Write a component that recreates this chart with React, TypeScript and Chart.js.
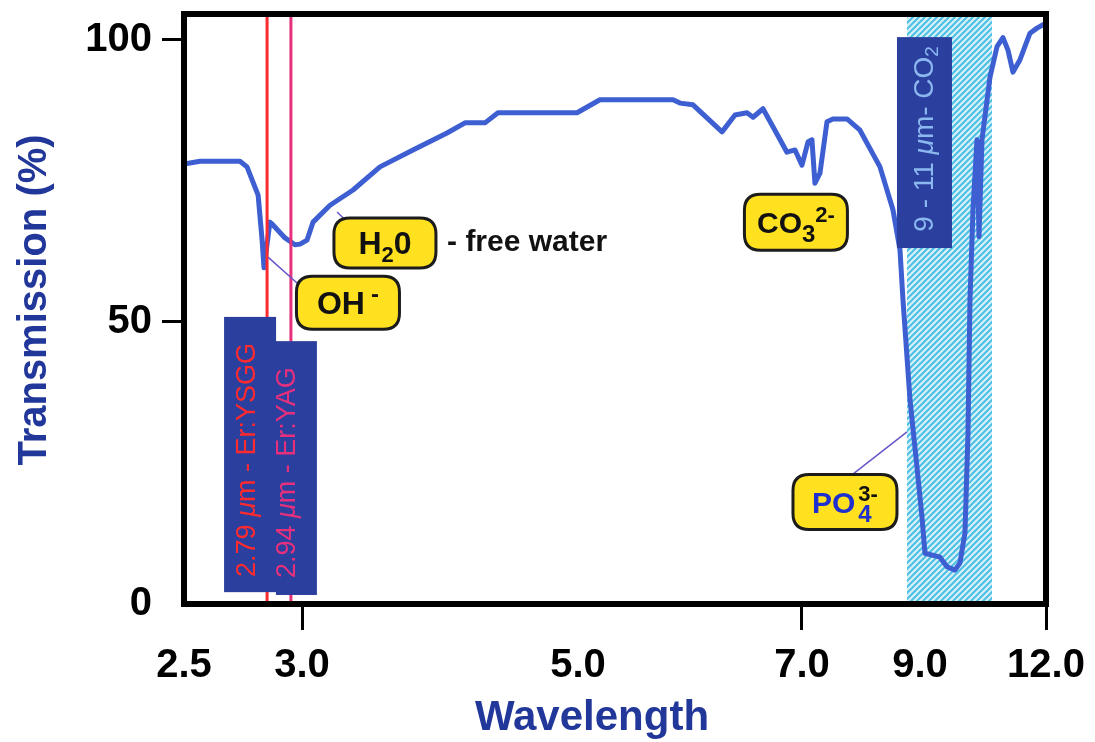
import React, { useEffect, useRef } from 'react';
import { Chart, LinearScale, LineController, LineElement, PointElement } from 'chart.js';

// ---------------- data ----------------
const wavelength = [
  2.5, 2.568, 2.737, 2.767, 2.814, 2.831, 2.839, 2.864, 2.877, 2.928, 2.97, 2.992,
  3.036, 3.08, 3.203, 3.37, 3.565, 3.804, 4.051, 4.181, 4.326, 4.42, 4.993,
  5.196, 5.848, 5.911, 6.027, 6.286, 6.402, 6.509, 6.563, 6.652, 6.741, 6.866, 6.938, 7.0,
  7.102, 7.169, 7.22, 7.305, 7.424, 7.525, 7.763, 7.983, 8.322, 8.542, 8.661, 8.712, 8.831, 8.949,
  9.048, 9.119, 9.476, 9.643, 9.833, 9.952, 10.071, 10.143, 10.19, 10.262, 10.357, 10.405, 10.476,
  10.667, 10.833, 10.976, 11.095, 11.214, 11.381, 11.619, 11.786, 11.929,
];
const transmission = [
  78.0, 78.5, 78.5, 77.5, 72.5, 64.5, 59.6, 67.7, 67.2, 64.9, 63.7, 63.8,
  64.5, 67.7, 70.7, 73.4, 77.5, 80.5, 83.5, 85.3, 85.3, 87.1, 87.1,
  89.4, 89.4, 88.8, 88.5, 83.7, 86.7, 87.1, 86.3, 87.8, 84.6, 80.1, 80.5, 77.8,
  81.9, 82.3, 74.6, 76.4, 85.5, 86.0, 86.0, 84.0, 77.5, 69.9, 62.8, 53.9, 36.2, 24.3,
  15.4, 9.0, 8.3, 6.6, 6.0, 7.3, 12.6, 30.3, 53.9, 69.9, 82.3, 65.1, 82.3,
  93.4, 98.8, 100.4, 98.2, 94.3, 96.5, 101.2, 102.1, 102.7,
];

const xTickValues = [2.5, 3.0, 5.0, 7.0, 9.0, 12.0];
const xTickMarked = [3.0, 7.0, 12.0];
// broken (non-linear) wavelength axis: fraction of axis length at each tick value
const xBreakFractions = [0, 0.1369, 0.4571, 0.7169, 0.8538, 1];
const yTickValues = [0, 50, 100];
const yMin = 0;
const yMax = 104.6;

const laserWavelengths = [2.852, 2.953];
const laserLabels = ['2.79 ', '2.94 '];
const laserNames = ['m - Er:YSGG', 'm - Er:YAG'];
const laserColors = ['#ff2a2e', '#e6307c'];
const co2Band = [8.78, 10.714];
const co2LabelX = 9.119;

const FONT = "'Liberation Sans', Arial, Helvetica, sans-serif";
const NAVY = '#2b3f9e';
const TITLE_COLOR = '#22379a';
const CURVE_COLOR = '#3d5fd2';

// ---------------- custom broken axis ----------------
function wlToFrac(v: number): number {
  const a = xTickValues, f = xBreakFractions;
  const n = a.length - 1;
  let i = 0;
  if (v <= a[0]) i = 0;
  else if (v >= a[n]) i = n - 1;
  else { while (i < n - 1 && v > a[i + 1]) i++; }
  return f[i] + ((v - a[i]) / (a[i + 1] - a[i])) * (f[i + 1] - f[i]);
}
function fracToWl(t: number): number {
  const a = xTickValues, f = xBreakFractions;
  const n = f.length - 1;
  let i = 0;
  if (t <= f[0]) i = 0;
  else if (t >= f[n]) i = n - 1;
  else { while (i < n - 1 && t > f[i + 1]) i++; }
  return a[i] + ((t - f[i]) / (f[i + 1] - f[i])) * (a[i + 1] - a[i]);
}

class BrokenAxisScale extends (LinearScale as any) {
  static id = 'brokenaxis';
  static defaults = (LinearScale as any).defaults;
  getPixelForValue(value: number) {
    if (value === null || value === undefined || isNaN(value)) return NaN;
    return (this as any).getPixelForDecimal(wlToFrac(value));
  }
  getValueForPixel(pixel: number) {
    return fracToWl((this as any).getDecimalForPixel(pixel));
  }
}

Chart.register(LinearScale, LineController, LineElement, PointElement, BrokenAxisScale as any);

// ---------------- drawing helpers ----------------
type Seg = { text: string; font: string; color: string; dy?: number; stack?: boolean; gap?: number };

function segsWidth(ctx: CanvasRenderingContext2D, segs: Seg[]) {
  let w = 0;
  let prevW = 0;
  for (const s of segs) {
    ctx.font = s.font;
    const sw = ctx.measureText(s.text).width;
    if (s.stack) { w += Math.max(0, sw - prevW); }
    else { w += sw + (s.gap || 0); prevW = sw; }
  }
  return w;
}
function drawSegs(ctx: CanvasRenderingContext2D, x: number, y: number, segs: Seg[]) {
  let cx = x;
  let prevStart = x;
  for (const s of segs) {
    ctx.font = s.font;
    ctx.fillStyle = s.color;
    const sw = ctx.measureText(s.text).width;
    if (s.stack) {
      ctx.fillText(s.text, prevStart, y + (s.dy || 0));
      cx = Math.max(cx, prevStart + sw);
    } else {
      const sx = cx + (s.gap || 0);
      ctx.fillText(s.text, sx, y + (s.dy || 0));
      prevStart = sx;
      cx = sx + sw;
    }
  }
}
function roundRect(ctx: CanvasRenderingContext2D, x: number, y: number, w: number, h: number, r: number) {
  ctx.beginPath();
  ctx.moveTo(x + r, y);
  ctx.lineTo(x + w - r, y);
  ctx.quadraticCurveTo(x + w, y, x + w, y + r);
  ctx.lineTo(x + w, y + h - r);
  ctx.quadraticCurveTo(x + w, y + h, x + w - r, y + h);
  ctx.lineTo(x + r, y + h);
  ctx.quadraticCurveTo(x, y + h, x, y + h - r);
  ctx.lineTo(x, y + r);
  ctx.quadraticCurveTo(x, y, x + r, y);
  ctx.closePath();
}
function badge(ctx: CanvasRenderingContext2D, cx: number, cy: number, w: number, h: number, segs: Seg[]) {
  ctx.save();
  roundRect(ctx, cx - w / 2, cy - h / 2, w, h, 16);
  ctx.fillStyle = '#ffe11f';
  ctx.fill();
  ctx.lineWidth = 3;
  ctx.strokeStyle = '#1c1c1c';
  ctx.stroke();
  ctx.textBaseline = 'alphabetic';
  ctx.textAlign = 'left';
  const tw = segsWidth(ctx, segs);
  drawSegs(ctx, cx - tw / 2, cy + 11, segs);
  ctx.restore();
}
function makeHatch(ctx: CanvasRenderingContext2D) {
  const c = document.createElement('canvas');
  c.width = 6; c.height = 6;
  const g = c.getContext('2d')!;
  g.fillStyle = '#d6f1f9';
  g.fillRect(0, 0, 6, 6);
  g.strokeStyle = '#4dbfe2';
  g.lineWidth = 2;
  g.beginPath();
  g.moveTo(-1, 7); g.lineTo(7, -1);
  g.moveTo(-1, 1); g.lineTo(1, -1);
  g.moveTo(5, 7); g.lineTo(7, 5);
  g.stroke();
  return ctx.createPattern(c, 'repeat');
}

const annotationPlugin = {
  id: 'irAnnotations',
  beforeDatasetsDraw(chart: any) {
    const { ctx, chartArea, scales } = chart;
    const x = scales.x;
    ctx.save();
    const x0 = x.getPixelForValue(co2Band[0]);
    const x1 = x.getPixelForValue(co2Band[1]);
    ctx.fillStyle = makeHatch(ctx) as any;
    ctx.fillRect(x0, chartArea.top, x1 - x0, chartArea.bottom - chartArea.top);
    ctx.restore();
  },
  afterDatasetsDraw(chart: any) {
    const { ctx, chartArea, scales } = chart;
    const x = scales.x, y = scales.y;
    const px = (v: number) => x.getPixelForValue(v);
    const py = (v: number) => y.getPixelForValue(v);
    ctx.save();

    // laser lines
    laserWavelengths.forEach((w, i) => {
      ctx.strokeStyle = laserColors[i];
      ctx.lineWidth = 3;
      ctx.beginPath();
      ctx.moveTo(px(w), chartArea.top);
      ctx.lineTo(px(w), chartArea.bottom);
      ctx.stroke();
    });

    // laser label boxes
    const l1 = px(laserWavelengths[0]);
    const l2 = px(laserWavelengths[1]);
    ctx.fillStyle = NAVY;
    ctx.fillRect(l1 - 43, py(50.9), 52, py(2.1) - py(50.9));
    ctx.fillRect(l2 - 15, py(46.6), 41, py(1.6) - py(46.6));

    const laserText = (cx: number, by: number, i: number) => {
      ctx.save();
      ctx.translate(cx, by);
      ctx.rotate(-Math.PI / 2);
      ctx.textBaseline = 'middle';
      ctx.textAlign = 'left';
      const f = `27px ${FONT}`;
      drawSegs(ctx, 0, 0, [
        { text: laserLabels[i], font: f, color: laserColors[i] },
        { text: '\u03bc', font: `italic 27px ${FONT}`, color: laserColors[i] },
        { text: laserNames[i], font: f, color: laserColors[i] },
      ]);
      ctx.restore();
    };
    laserText(l1 - 20, py(4.8), 0);
    laserText(l2 - 3, py(4.6), 1);

    // CO2 laser label box
    const cxl = px(co2LabelX);
    ctx.fillStyle = NAVY;
    ctx.fillRect(cxl - 28, py(100.5), 55, py(63.1) - py(100.5));
    ctx.save();
    ctx.translate(cxl, py(66.0));
    ctx.rotate(-Math.PI / 2);
    ctx.textBaseline = 'middle';
    ctx.textAlign = 'left';
    const cf = `28px ${FONT}`;
    const lb = '#8cb8f0';
    drawSegs(ctx, 0, 0, [
      { text: '9 - 11 ', font: cf, color: lb },
      { text: '\u03bc', font: `italic 28px ${FONT}`, color: lb },
      { text: 'm- CO', font: cf, color: lb },
      { text: '2', font: `19px ${FONT}`, color: lb, dy: 8 },
    ]);
    ctx.restore();

    // leader lines
    ctx.strokeStyle = '#6a55c8';
    ctx.lineWidth = 1.5;
    const leader = (a: number[], b: number[]) => {
      ctx.beginPath();
      ctx.moveTo(px(a[0]), py(a[1]));
      ctx.lineTo(px(b[0]), py(b[1]));
      ctx.stroke();
    };
    leader([2.856, 61.5], [2.979, 56.9]);
    leader([3.254, 69.5], [3.37, 66.8]);
    leader([7.847, 22.9], [8.78, 30.5]);

    const B = (s: number) => `bold ${s}px ${FONT}`;
    // badges
    badge(ctx, px(3.601), py(64.0), 102, 50, [
      { text: 'H', font: B(32), color: '#111' },
      { text: '2', font: B(22), color: '#111', dy: 8 },
      { text: '0', font: B(32), color: '#111' },
    ]);
    badge(ctx, px(3.333), py(53.4), 103, 53, [
      { text: 'OH', font: B(32), color: '#111' },
      { text: '-', font: B(24), color: '#111', dy: -12, gap: 6 },
    ]);
    badge(ctx, px(6.946), py(67.7), 103, 56, [
      { text: 'CO', font: B(30), color: '#111' },
      { text: '3', font: B(24), color: '#111', dy: 9 },
      { text: '2-', font: B(22), color: '#111', dy: -11 },
    ]);
    badge(ctx, px(7.729), py(18.1), 104, 55, [
      { text: 'PO', font: B(30), color: '#1e2fd0' },
      { text: '4', font: B(24), color: '#1e2fd0', dy: 9, gap: 3 },
      { text: '3-', font: B(22), color: '#111', dy: -12, stack: true },
    ]);

    // free water text
    ctx.font = B(30);
    ctx.fillStyle = '#111';
    ctx.textAlign = 'left';
    ctx.textBaseline = 'middle';
    ctx.fillText('- free water', px(4.051), py(64.0));

    ctx.restore();
  },
  afterDraw(chart: any) {
    const { ctx, chartArea } = chart;
    ctx.save();
    // frame
    ctx.strokeStyle = '#000';
    ctx.lineWidth = 6;
    ctx.strokeRect(chartArea.left, chartArea.top, chartArea.right - chartArea.left, chartArea.bottom - chartArea.top);
    // axis titles
    ctx.fillStyle = TITLE_COLOR;
    ctx.font = `bold 42px ${FONT}`;
    ctx.textAlign = 'center';
    ctx.textBaseline = 'middle';
    ctx.fillText('Wavelength', 592, 718);
    ctx.translate(35, 300);
    ctx.rotate(-Math.PI / 2);
    ctx.font = `bold 40px ${FONT}`;
    ctx.fillText('Transmission (%)', 0, 0);
    ctx.restore();
  },
};

export default function App() {
  const ref = useRef<HTMLCanvasElement | null>(null);
  useEffect(() => {
    const canvas = ref.current;
    if (!canvas) return;
    const chart = new Chart(canvas, {
      type: 'line',
      data: {
        datasets: [
          {
            data: wavelength.map((w, i) => ({ x: w, y: transmission[i] })),
            borderColor: CURVE_COLOR,
            borderWidth: 5,
            pointRadius: 0,
            tension: 0,
            fill: false,
            borderJoinStyle: 'round',
            borderCapStyle: 'round',
          } as any,
        ],
      },
      options: {
        responsive: false,
        animation: false,
        devicePixelRatio: 1,
        layout: { padding: { top: 14, right: 49, left: 0, bottom: 0 } },
        events: [],
        scales: {
          x: {
            type: 'brokenaxis' as any,
            min: 2.5,
            max: 12,
            position: 'bottom',
            afterBuildTicks: (s: any) => { s.ticks = xTickValues.map((v) => ({ value: v })); },
            afterFit: (s: any) => { s.height = 138; s.paddingLeft = 0; s.paddingRight = 0; },
            ticks: {
              autoSkip: false,
              maxRotation: 0,
              minRotation: 0,
              padding: 12,
              color: '#000',
              font: { family: FONT, size: 40, weight: 'bold' },
              callback: (v: any) => Number(v).toFixed(1),
            },
            grid: {
              drawOnChartArea: false,
              drawTicks: true,
              tickLength: 26,
              tickWidth: 3,
              tickColor: (c: any) => (c.tick && xTickMarked.includes(c.tick.value) ? '#000' : 'rgba(0,0,0,0)'),
            },
            border: { display: false },
          } as any,
          y: {
            type: 'linear',
            min: yMin,
            max: yMax,
            afterBuildTicks: (s: any) => { s.ticks = yTickValues.map((v) => ({ value: v })); },
            afterFit: (s: any) => { s.width = 184; s.paddingTop = 0; s.paddingBottom = 0; },
            ticks: {
              padding: 10,
              color: '#000',
              font: { family: FONT, size: 40, weight: 'bold' },
              callback: (v: any) => String(v),
            },
            grid: {
              drawOnChartArea: false,
              drawTicks: true,
              tickLength: 22,
              tickWidth: 3,
              tickColor: (c: any) => (c.tick && c.tick.value !== 0 ? '#000' : 'rgba(0,0,0,0)'),
            },
            border: { display: false },
          } as any,
        },
        plugins: {},
      },
      plugins: [annotationPlugin],
    });
    return () => chart.destroy();
  }, []);
  return (
    <div style={{ position: 'fixed', left: 0, top: 0, width: 1095, height: 742, background: '#fff' }}>
      <canvas ref={ref} width={1095} height={742} style={{ display: 'block', width: 1095, height: 742 }} />
    </div>
  );
}
